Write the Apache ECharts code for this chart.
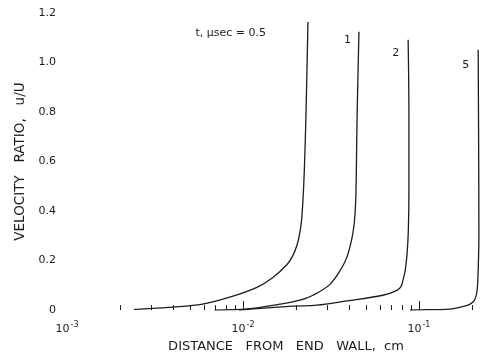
<!DOCTYPE html>
<html>
<head>
<meta charset="utf-8">
<script src="https://cdn.jsdelivr.net/npm/echarts@6/dist/echarts.min.js"></script>
<style>
  html, body { margin: 0; padding: 0; background: #fff; }
  #chart { width: 495px; height: 358px; }
</style>
</head>
<body>
<div id="chart"></div>
<script>
// Velocity profiles u/U against distance from the end wall, for several times t (μsec)
const curveNames = ['t, μsec = 0.5', '1', '2', '5'];

const dist05 = [0.0024, 0.0026, 0.0040, 0.0059, 0.0084, 0.0120, 0.0148, 0.0178, 0.0192, 0.0203, 0.0210, 0.0215, 0.0219, 0.0223, 0.0228, 0.0234];
const ratio05 = [0.003, 0.004, 0.012, 0.024, 0.052, 0.092, 0.132, 0.184, 0.22, 0.264, 0.31, 0.36, 0.44, 0.56, 0.79, 1.164];

const dist1 = [0.0069, 0.0106, 0.0162, 0.0211, 0.0250, 0.0312, 0.0365, 0.0390, 0.0408, 0.0421, 0.0430, 0.0437, 0.0441, 0.0445, 0.0456];
const ratio1 = [0.0, 0.005, 0.024, 0.04, 0.06, 0.104, 0.172, 0.215, 0.264, 0.31, 0.36, 0.44, 0.58, 0.78, 1.124];

const dist2 = [0.0095, 0.0110, 0.0192, 0.0263, 0.0380, 0.0623, 0.0750, 0.0790, 0.0811, 0.0835, 0.0855, 0.0870, 0.0877, 0.0877, 0.0868];
const ratio2 = [0.0, 0.004, 0.016, 0.02, 0.036, 0.06, 0.08, 0.095, 0.12, 0.16, 0.224, 0.32, 0.49, 0.77, 1.092];

const dist5 = [0.089, 0.0975, 0.150, 0.190, 0.202, 0.208, 0.213, 0.216, 0.219, 0.2185, 0.217];
const ratio5 = [0.0, 0.001, 0.004, 0.02, 0.032, 0.044, 0.07, 0.12, 0.3, 0.6, 1.052];

// axis ticks and labels
const xMinorTicks = [0.002, 0.003, 0.004, 0.005, 0.006, 0.007, 0.008, 0.009,
                     0.02, 0.03, 0.04, 0.05, 0.06, 0.07, 0.08, 0.09, 0.2];
const xMajorTicks = [0.01, 0.1];
const xLabelValues = [0.001, 0.01, 0.1];
const xLabelExponents = ['-3', '-2', '-1'];
const yTickLabels = ['0', '0.2', '0.4', '0.6', '0.8', '1.0', '1.2'];

const INK = '#1c1c1c';
const FONT = '"DejaVu Sans", "Liberation Sans", sans-serif';

// curve label placement, relative to the top end of each curve
const labelOffsets = [[-42, 11], [-8, 8], [-9, 13], [-9, 15]];

function buildSeries(name, xs, ys, idx) {
  return {
    name: name,
    type: 'line',
    xAxisIndex: 0,
    yAxisIndex: 0,
    data: xs.map((x, i) => [x, ys[i]]),
    smooth: 0.35,
    smoothMonotone: 'none',
    showSymbol: false,
    symbol: 'none',
    lineStyle: { color: INK, width: 1.3 },
    endLabel: {
      show: true,
      formatter: name,
      align: 'right',
      verticalAlign: 'middle',
      distance: 0,
      offset: labelOffsets[idx],
      color: INK,
      fontSize: 11,
      fontFamily: FONT
    },
    silent: true,
    animation: false,
    z: 3
  };
}

const chart = echarts.init(document.getElementById('chart'), null, { renderer: 'canvas' });

const option = {
  backgroundColor: '#ffffff',
  animation: false,
  grid: { left: 67, right: 6, top: 13, bottom: 45, containLabel: false },
  xAxis: [
    {
      type: 'log',
      min: 0.001,
      max: 0.25,
      logBase: 10,
      name: 'DISTANCE   FROM   END   WALL,  cm',
      nameLocation: 'middle',
      nameGap: 28,
      nameTextStyle: { color: INK, fontSize: 13, fontFamily: FONT, padding: [0, 0, 0, 16] },
      axisLine: { show: false },
      axisTick: { show: true, inside: true, length: 5, customValues: xMinorTicks,
                  lineStyle: { color: INK, width: 1 } },
      axisLabel: {
        show: true,
        customValues: xLabelValues,
        margin: 10,
        formatter: function (v) {
          const k = Math.round(-Math.log10(v)) - 1;
          return '{b|10}{s|' + xLabelExponents[2 - k] + '}';
        },
        rich: {
          b: { color: INK, fontSize: 11, fontFamily: FONT, padding: [4, 0, 0, 0] },
          s: { color: INK, fontSize: 8, fontFamily: FONT, padding: [0, 0, 5, 1] }
        }
      },
      splitLine: { show: false },
      minorTick: { show: false },
      minorSplitLine: { show: false }
    },
    {
      type: 'log',
      min: 0.001,
      max: 0.25,
      logBase: 10,
      position: 'bottom',
      axisLine: { show: false },
      axisTick: { show: true, inside: true, length: 9, customValues: xMajorTicks,
                  lineStyle: { color: INK, width: 1 } },
      axisLabel: { show: false },
      splitLine: { show: false }
    }
  ],
  yAxis: {
    type: 'value',
    min: 0,
    max: 1.2,
    interval: 0.2,
    name: 'VELOCITY   RATIO,   u/U',
    nameLocation: 'middle',
    nameGap: 40,
    nameTextStyle: { color: INK, fontSize: 13.5, fontFamily: FONT },
    axisLine: { show: false },
    axisTick: { show: false },
    splitLine: { show: false },
    axisLabel: {
      margin: 11,
      color: INK,
      fontSize: 11,
      fontFamily: FONT,
      formatter: function (v) { return yTickLabels[Math.round(v / 0.2)]; }
    }
  },
  series: [
    buildSeries(curveNames[0], dist05, ratio05, 0),
    buildSeries(curveNames[1], dist1, ratio1, 1),
    buildSeries(curveNames[2], dist2, ratio2, 2),
    buildSeries(curveNames[3], dist5, ratio5, 3)
  ]
};

chart.setOption(option);
</script>
</body>
</html>
